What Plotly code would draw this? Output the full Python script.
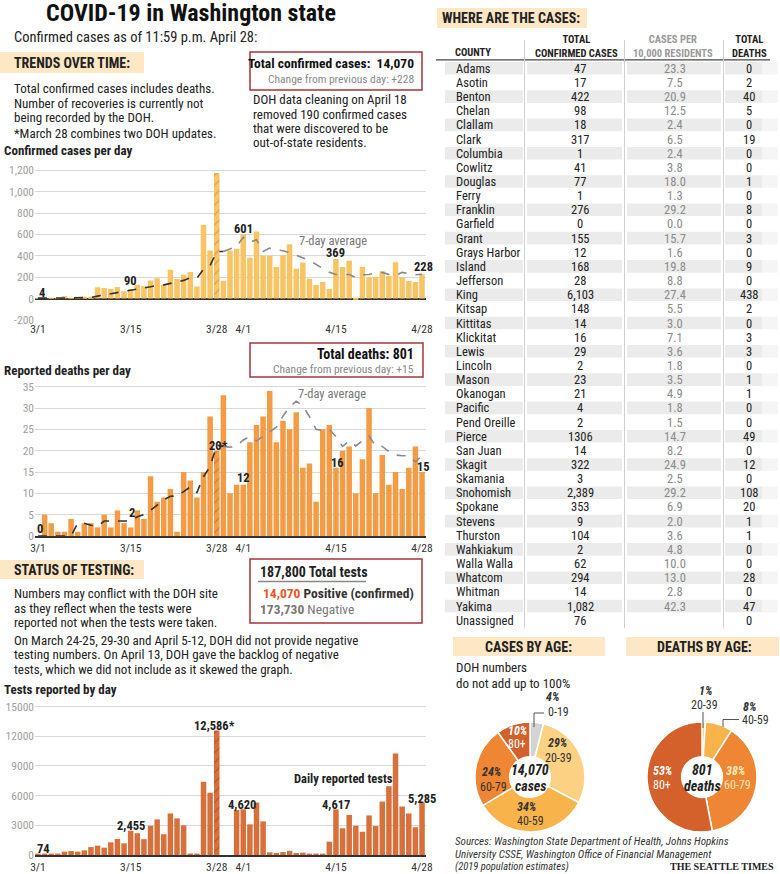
import plotly.graph_objects as go

W, H = 780, 874
FONT = "Liberation Sans Narrow, Roboto Condensed, DejaVu Sans Condensed, Roboto, sans-serif"
SERIF = "Liberation Serif, DejaVu Serif, serif"

def X(px):
    return px / W

def Y(py):
    return 1 - py / H

# ---------------- data ----------------
days = list(range(59))  # 3/1 .. 4/28
tick_idx = [0, 14, 27, 31, 45, 58]
tick_text = ["3/1", "3/15", "3/28", "4/1", "4/15", "4/28"]

cases_ticks = [-200, 0, 200, 400, 600, 800, 1000, 1200]
cases_tick_text = ["-200", "0", "200", "400", "600", "800", "1,000", "1,200"]
deaths_ticks = [0, 5, 10, 15, 20, 25, 30, 35]
tests_ticks = [0, 3000, 6000, 9000, 12000, 15000]

cases_per_day = [4, 1, 2, 3, 25, 5, 8, 18, 16, 105,
                 99, 90, 108, 68, 90, 130, 115, 170, 189, 130,
                 270, 183, 223, 248, 112, 688, 450, 1173, 167, 450,
                 465, 601, 381, 626, 400, 400, 295, 405, 508, 279,
                 338, 186, 127, 155, 90, 369, 295, 353, -8, 295,
                 200, 205, 255, 210, 340, 200, 165, 155, 228]
cases_avg = [4, 3, 2, 3, 7, 6, 7, 9, 11, 23,
             35, 45, 58, 66, 80, 95, 100, 111, 124, 128,
             142, 155, 170, 195, 190, 275, 310, 440, 440, 460,
             487, 573, 526, 551, 441, 472, 455, 447, 430, 405,
             380, 355, 320, 285, 245, 225, 223, 225, 197, 222,
             225, 240, 245, 225, 215, 245, 232, 222, 228]

deaths_per_day = [0, 5, 3, 1, 1, 4, 1, 3, 3, 2,
                  5, 2, 6, 3, 2, 6, 4, 14, 8, 9,
                  11, 1, 15, 13, 9, 15, 28, 20, 33, 10,
                  12, 12, 22, 26, 28, 34, 22, 27, 25, 29,
                  16, 17, 8, 25, 26, 16, 20, 21, 10, 18,
                  30, 10, 19, 12, 15, 11, 16, 21, 15]
deaths_avg = [0, 0, 0, 0, 0, 0, 3.0, 3.0, 2.5, 2.3,
              3.5, 3.5, 3.5, 3.5, 3.5, 4.5, 5.0, 6.0, 7.3, 8.5,
              9.3, 9.4, 10.4, 11.5, 10.2, 13.9, 16.3, 21.3, 21.0, 20.8,
              21.1, 22.5, 23.3, 22.3, 23.4, 24.5, 25.5, 28.1, 30.3, 31.6,
              30.5, 28, 25, 24.7, 25, 23.3, 21, 22.3, 21.1, 22.3,
              23.4, 21.1, 21, 19.8, 19, 18.8, 18.8, 17.4, 18.8]

tests_per_day = [74, 100, 100, 130, 340, 400, 340, 470, 800, 950,
                 740, 1280, 1620, 1180, 2455, 2200, 1600, 2950, 3600, 2100,
                 4200, 3700, 3000, 150, 50, 7400, 6300, 12586, 0, 0,
                 4550, 4620, 3100, 5300, 3400, 270, 200, 300, 420, 200,
                 240, 100, 60, 80, 1350, 4617, 2700, 4050, 2950, 2350,
                 4000, 2930, 5400, 6950, 10250, 4900, 4200, 2800, 5285]

combined_day = 27  # March 28 combines two DOH updates

counties = ["Adams", "Asotin", "Benton", "Chelan", "Clallam", "Clark", "Columbia", "Cowlitz",
            "Douglas", "Ferry", "Franklin", "Garfield", "Grant", "Grays Harbor", "Island",
            "Jefferson", "King", "Kitsap", "Kittitas", "Klickitat", "Lewis", "Lincoln", "Mason",
            "Okanogan", "Pacific", "Pend Oreille", "Pierce", "San Juan", "Skagit", "Skamania",
            "Snohomish", "Spokane", "Stevens", "Thurston", "Wahkiakum", "Walla Walla", "Whatcom",
            "Whitman", "Yakima", "Unassigned"]
county_cases = ["47", "17", "422", "98", "18", "317", "1", "41", "77", "1", "276", "0", "155",
                "12", "168", "28", "6,103", "148", "14", "16", "29", "2", "23", "21", "4", "2",
                "1306", "14", "322", "3", "2,389", "353", "9", "104", "2", "62", "294", "14",
                "1,082", "76"]
county_per10k = ["23.3", "7.5", "20.9", "12.5", "2.4", "6.5", "2.4", "3.8", "18.0", "1.3", "29.2",
                 "0.0", "15.7", "1.6", "19.8", "8.8", "27.4", "5.5", "3.0", "7.1", "3.6", "1.8",
                 "3.5", "4.9", "1.8", "1.5", "14.7", "8.2", "24.9", "2.5", "29.2", "6.9", "2.0",
                 "3.6", "4.8", "10.0", "13.0", "2.8", "42.3", ""]
county_deaths = [0, 2, 40, 5, 0, 19, 0, 0, 1, 0, 8, 0, 3, 0, 9, 0, 438, 2, 0, 3, 3, 0, 1, 1, 0, 0,
                 49, 0, 12, 0, 108, 20, 1, 1, 0, 0, 28, 0, 47, 0]

case_age_labels = ["0-19", "20-39", "40-59", "60-79", "80+"]
case_age_pct = [4, 29, 34, 24, 10]
death_age_labels = ["20-39", "40-59", "60-79", "80+"]
death_age_pct = [1, 8, 38, 53]

# ---------------- colours ----------------
C_CASES = "#f9c464"
C_DEATHS = "#f39c45"
C_TESTS = "#d8703c"
BAND = "#fde7c4"
BOX = "#a8323e"
GRID = "#d9d9d9"

fig = go.Figure()

def hatch(base_fg):
    return dict(shape=["/" if d == combined_day else "" for d in days],
                fgcolor=base_fg, size=7, solidity=0.18, fillmode="overlay")

# cases
fig.add_trace(go.Bar(x=days, y=cases_per_day, marker=dict(color=C_CASES, line_width=0, pattern=hatch("#b98432")),
                     xaxis="x", yaxis="y", showlegend=False, hoverinfo="skip"))
fig.add_trace(go.Scatter(x=days[:29], y=cases_avg[:29], mode="lines", line=dict(color="#333", dash="dash", width=1.6),
                         xaxis="x", yaxis="y", showlegend=False, hoverinfo="skip"))
fig.add_trace(go.Scatter(x=days[28:], y=cases_avg[28:], mode="lines", line=dict(color="#888", dash="dash", width=1.6),
                         xaxis="x", yaxis="y", showlegend=False, hoverinfo="skip"))
# deaths
fig.add_trace(go.Bar(x=days, y=deaths_per_day, marker=dict(color=C_DEATHS, line_width=0, pattern=hatch("#b0602a")),
                     xaxis="x2", yaxis="y2", showlegend=False, hoverinfo="skip"))
fig.add_trace(go.Scatter(x=days[:29], y=deaths_avg[:29], mode="lines", line=dict(color="#333", dash="dash", width=1.6),
                         xaxis="x2", yaxis="y2", showlegend=False, hoverinfo="skip"))
fig.add_trace(go.Scatter(x=days[28:], y=deaths_avg[28:], mode="lines", line=dict(color="#888", dash="dash", width=1.6),
                         xaxis="x2", yaxis="y2", showlegend=False, hoverinfo="skip"))
# tests
fig.add_trace(go.Bar(x=days, y=tests_per_day, marker=dict(color=C_TESTS, line_width=0, pattern=hatch("#8e4320")),
                     xaxis="x3", yaxis="y3", showlegend=False, hoverinfo="skip"))

# pies
fig.add_trace(go.Pie(values=case_age_pct, labels=case_age_labels, sort=False, direction="clockwise", rotation=0,
                     hole=0.37, textinfo="none", showlegend=False, hoverinfo="skip",
                     marker=dict(colors=["#d3d3d3", "#fcd183", "#f8b44a", "#ee8633", "#d4602c"],
                                 line=dict(color="white", width=1.5)),
                     domain=dict(x=[X(475), X(585)], y=[Y(832), Y(722)])))
fig.add_trace(go.Pie(values=death_age_pct, labels=death_age_labels, sort=False, direction="clockwise", rotation=0,
                     hole=0.37, textinfo="none", showlegend=False, hoverinfo="skip",
                     marker=dict(colors=["#fcd183", "#f8b44a", "#ee8633", "#d4602c"],
                                 line=dict(color="white", width=1.5)),
                     domain=dict(x=[X(647), X(757)], y=[Y(832), Y(722)])))

xdom = [X(35), X(426)]
xr = [-0.45, 58.6]
xcommon = dict(range=xr, domain=xdom, tickmode="array", tickvals=tick_idx, ticktext=tick_text,
               showgrid=False, zeroline=False, ticks="", tickfont=dict(family=FONT, size=11.5, color="#333"),
               fixedrange=True, automargin=False)
ycommon = dict(gridcolor=GRID, gridwidth=1, ticks="", tickfont=dict(family=FONT, size=11.5, color="#a0a0a0"),
               fixedrange=True, automargin=False)

fig.update_layout(
    template="none",
    width=W, height=H, margin=dict(l=0, r=0, t=0, b=0, pad=0, autoexpand=False),
    paper_bgcolor="white", plot_bgcolor="rgba(0,0,0,0)",
    bargap=0.17, showlegend=False,
    xaxis=dict(**xcommon, anchor="y"),
    yaxis=dict(**ycommon, anchor="x", domain=[Y(320.5), Y(166.8)], range=[-205, 1232],
               tickmode="array", tickvals=cases_ticks, ticktext=cases_tick_text,
               zeroline=True, zerolinecolor="#333", zerolinewidth=1.5),
    xaxis2=dict(**xcommon, anchor="y2", showline=True, linecolor="#333", linewidth=1.5),
    yaxis2=dict(**ycommon, anchor="x2", domain=[Y(536), Y(385.4)], range=[0, 35.3],
                tickmode="array", tickvals=deaths_ticks, zeroline=False),
    xaxis3=dict(**xcommon, anchor="y3", showline=True, linecolor="#333", linewidth=1.5),
    yaxis3=dict(**ycommon, anchor="x3", domain=[Y(855), Y(704.6)], range=[0, 15200],
                tickmode="array", tickvals=tests_ticks, tickformat="d", zeroline=False),
)

ann = []
shapes = []

def txt(x, y, s, size=12.5, color="#222", xanchor="left", family=FONT):
    ann.append(dict(x=X(x), y=Y(y), xref="paper", yref="paper", text=s, showarrow=False,
                    xanchor=xanchor, yanchor="middle", align=xanchor,
                    font=dict(family=family, size=size, color=color)))

def dtxt(ax, xv, yv, s, size=12.5, color="#222", xanchor="center"):
    ann.append(dict(x=xv, y=yv, xref=ax[0], yref=ax[1], text=s, showarrow=False,
                    xanchor=xanchor, yanchor="middle", font=dict(family=FONT, size=size, color=color)))

def rect(x0, y0, x1, y1, fill=None, line=None, lw=1.5, layer="below"):
    shapes.append(dict(type="rect", xref="paper", yref="paper", x0=X(x0), x1=X(x1), y0=Y(y1), y1=Y(y0),
                       fillcolor=fill if fill else "rgba(0,0,0,0)",
                       line=dict(color=line if line else "rgba(0,0,0,0)", width=lw if line else 0),
                       layer=layer))

def seg(x0, y0, x1, y1, color="#333", w=1):
    shapes.append(dict(type="line", xref="paper", yref="paper", x0=X(x0), x1=X(x1), y0=Y(y0), y1=Y(y1),
                       line=dict(color=color, width=w)))

# ---------------- left column text ----------------
txt(191, 13, "<b>COVID-19 in Washington state</b>", size=24, color="#111", xanchor="center")
txt(12, 37, "Confirmed cases as of 11:59 p.m. April 28:", size=14.5, color="#222")

rect(0, 52, 144, 73, fill=BAND)
txt(12, 62.5, "<b>TRENDS OVER TIME:</b>", size=14, color="#222")
txt(12, 89, "Total confirmed cases includes deaths.", size=13)
txt(12, 103, "Number of recoveries is currently not", size=13)
txt(12, 117.5, "being recorded by the DOH.", size=13)
txt(12, 133, "*March 28 combines two DOH updates.", size=13)
txt(2, 150.5, "<b>Confirmed cases per day</b>", size=13)

rect(250, 52, 422, 90, line=BOX, lw=1.5)
txt(416, 63.5, "<b>Total confirmed cases:  14,070</b>", size=13.5, color="#111", xanchor="right")
txt(416, 79, "Change from previous day: +228", size=11.5, color="#888", xanchor="right")
txt(251, 99.5, "DOH data cleaning on April 18", size=13)
txt(251, 114, "removed 190 confirmed cases", size=13)
txt(251, 128.5, "that were discovered to be", size=13)
txt(251, 143, "out-of-state residents.", size=13)

# chart labels (cases)
A1 = ("x", "y")
dtxt(A1, 0.6, 56, "<b>4</b>")
dtxt(A1, 13.9, 167, "<b>90</b>")
dtxt(A1, 27.5, 1247, "<b>1,173*</b>")
dtxt(A1, 31.1, 651, "<b>601</b>")
dtxt(A1, 45.0, 428, "<b>369</b>")
dtxt(A1, 58.2, 298, "<b>228</b>")
dtxt(A1, 44.6, 540, "7-day average", color="#777", size=12.5)

# deaths
rect(250, 343, 423, 377, line=BOX, lw=1.5)
txt(416, 354, "<b>Total deaths: 801</b>", size=14, color="#111", xanchor="right")
txt(416, 369, "Change from previous day: +15", size=11.5, color="#888", xanchor="right")
txt(2, 370.5, "<b>Reported deaths per day</b>", size=13)
A2 = ("x2", "y2")
dtxt(A2, 0.3, 1.8, "<b>0</b>")
dtxt(A2, 14.2, 5.4, "<b>2</b>")
dtxt(A2, 27.2, 21.3, "<b>20*</b>")
dtxt(A2, 31.0, 13.6, "<b>12</b>")
dtxt(A2, 45.2, 17.3, "<b>16</b>")
dtxt(A2, 58.2, 16.2, "<b>15</b>")
dtxt(A2, 44.4, 33.3, "7-day average", color="#777", size=12.5)

# testing
rect(0, 560, 144, 579, fill=BAND)
txt(12, 569.5, "<b>STATUS OF TESTING:</b>", size=14, color="#222")
txt(12, 593.5, "Numbers may conflict with the DOH site", size=13)
txt(12, 608, "as they reflect when the tests were", size=13)
txt(12, 622.5, "reported not when the tests were taken.", size=13)
txt(12, 640, "On March 24-25, 29-30 and April 5-12, DOH did not provide negative", size=13)
txt(12, 654.5, "testing numbers. On April 13, DOH gave the backlog of negative", size=13)
txt(12, 669, "tests, which we did not include as it skewed the graph.", size=13)

rect(250, 559, 422, 623, line=BOX, lw=1.5)
txt(258, 572, "<b>187,800 Total tests</b>", size=14, color="#222")
seg(258, 581.5, 366, 581.5, color="#888", w=1.5)
txt(261, 593, "<b><span style='color:#e8572a'>14,070</span> Positive (confirmed)</b>", size=13.5, color="#333")
txt(258, 609, "<b>173,730</b> Negative", size=13.5, color="#777")
txt(2, 689.5, "<b>Tests reported by day</b>", size=13)

A3 = ("x3", "y3")
dtxt(A3, 0.9, 700, "<b>74</b>")
dtxt(A3, 14.0, 3002, "<b>2,455</b>")
dtxt(A3, 26.7, 13110, "<b>12,586*</b>")
dtxt(A3, 30.8, 5125, "<b>4,620</b>")
dtxt(A3, 45.0, 5125, "<b>4,617</b>")
dtxt(A3, 58.0, 5731, "<b>5,285</b>")
dtxt(A3, 46.1, 7752, "<b>Daily reported tests</b>")

# ---------------- table ----------------
rect(437, 8, 587, 28, fill=BAND)
txt(440, 18, "<b>WHERE ARE THE CASES:</b>", size=14, color="#222")

HDR = 10.5
txt(453, 52.7, "<b>COUNTY</b>", size=HDR, color="#222")
txt(576, 46.5, "<b>TOTAL<br>CONFIRMED CASES</b>", size=HDR, color="#222", xanchor="center")
txt(673, 46.5, "<b>CASES PER<br>10,000 RESIDENTS</b>", size=HDR, color="#999", xanchor="center")
txt(749, 46.5, "<b>TOTAL<br>DEATHS</b>", size=HDR, color="#222", xanchor="center")
seg(436, 59.8, 770, 59.8, color="#444", w=1.2)

ROW0, DY = 68.3, 14.15
for k, name in enumerate(counties):
    yy = ROW0 + k * DY
    if k % 2 == 0:
        rect(445, yy - 6.3, 523, yy + 6.3, fill="#ebebeb")
        rect(527, yy - 6.3, 622, yy + 6.3, fill="#ebebeb")
        rect(627, yy - 6.3, 721, yy + 6.3, fill="#ebebeb")
        rect(725, yy - 6.3, 762, yy + 6.3, fill="#ebebeb")
        rect(762, yy - 6.3, 778, yy + 6.3, fill="#f5f5f5")
    txt(454, yy, name, size=12.5, color="#222")
    txt(580, yy, county_cases[k], size=12.5, color="#222", xanchor="center")
    txt(675, yy, county_per10k[k], size=12.5, color="#8a8a8a", xanchor="center")
    txt(749, yy, str(county_deaths[k]), size=12.5, color="#222", xanchor="center")

yend = ROW0 + (len(counties) - 1) * DY + 8
for xs in (524.5, 624.5, 723.5):
    seg(xs, 40, xs, yend, color="#cfcfcf", w=1)

# ---------------- age donuts ----------------
rect(453, 637, 605, 656, fill=BAND)
txt(528, 646.5, "<b>CASES BY AGE:</b>", size=14, color="#222", xanchor="center")
rect(626, 637, 779, 656, fill=BAND)
txt(704, 646.5, "<b>DEATHS BY AGE:</b>", size=14, color="#222", xanchor="center")
txt(454, 667, "DOH numbers", size=13)
txt(454, 683, "do not add up to 100%", size=13)

def bi(s):
    return "<b><i>" + s + "</i></b>"

# cases donut labels
txt(552, 697, bi("4%"), size=12, color="#333", xanchor="center")
txt(558, 712, "0-19", size=12, color="#333", xanchor="center")
seg(534, 727, 534, 713, color="#555", w=1)
seg(534, 713, 544, 713, color="#555", w=1)
txt(557, 743, bi("29%"), size=12, color="#333", xanchor="center")
txt(558, 758, "20-39", size=12, color="#333", xanchor="center")
txt(526, 807, bi("34%"), size=12, color="#333", xanchor="center")
txt(530, 821, "40-59", size=12, color="#333", xanchor="center")
txt(491, 772, bi("24%"), size=12, color="#333", xanchor="center")
txt(493, 787, "60-79", size=12, color="#333", xanchor="center")
txt(517, 731, bi("10%"), size=12, color="white", xanchor="center")
txt(517, 744, "80+", size=12, color="white", xanchor="center")
txt(530, 770, bi("14,070"), size=14, color="#222", xanchor="center")
txt(530, 786, bi("cases"), size=14, color="#222", xanchor="center")

# deaths donut labels
txt(705, 691, bi("1%"), size=12, color="#333", xanchor="center")
txt(704, 705, "20-39", size=12, color="#333", xanchor="center")
seg(703, 728, 703, 712, color="#555", w=1)
txt(749, 707, bi("8%"), size=12, color="#333", xanchor="center")
txt(755, 720, "40-59", size=12, color="#333", xanchor="center")
seg(723, 727, 723, 719.5, color="#555", w=1)
seg(723, 719.5, 739, 719.5, color="#555", w=1)
txt(735, 771, bi("38%"), size=12, color="#fde6b8", xanchor="center")
txt(737, 785, "60-79", size=12, color="#fde6b8", xanchor="center")
txt(662, 771, bi("53%"), size=12, color="white", xanchor="center")
txt(662, 785, "80+", size=12, color="white", xanchor="center")
txt(702, 770, bi("801"), size=14, color="#222", xanchor="center")
txt(702, 786, bi("deaths"), size=14, color="#222", xanchor="center")

# sources
txt(453, 841, "<i>Sources: Washington State Department of Health, Johns Hopkins</i>", size=11, color="#333")
txt(453, 854, "<i>University CSSE, Washington Office of Financial Management</i>", size=11, color="#333")
txt(453, 866.5, "<i>(2019 population estimates)</i>", size=10.5, color="#333")
txt(776, 866, "<b>THE SEATTLE TIMES</b>", size=10, color="#222", xanchor="right", family=SERIF)

fig.update_layout(annotations=ann, shapes=shapes)
fig.write_html(
    "out.html",
    config={"displayModeBar": False, "responsive": False},
    post_script=(
        "document.documentElement.style.margin='0';document.documentElement.style.padding='0';"
        "document.documentElement.style.overflow='hidden';"
        "document.body.style.margin='0';document.body.style.padding='0';document.body.style.overflow='hidden';"
        "var gd=document.getElementById('{plot_id}');"
        "gd.style.position='fixed';gd.style.top='0px';gd.style.left='0px';"
    ),
)
